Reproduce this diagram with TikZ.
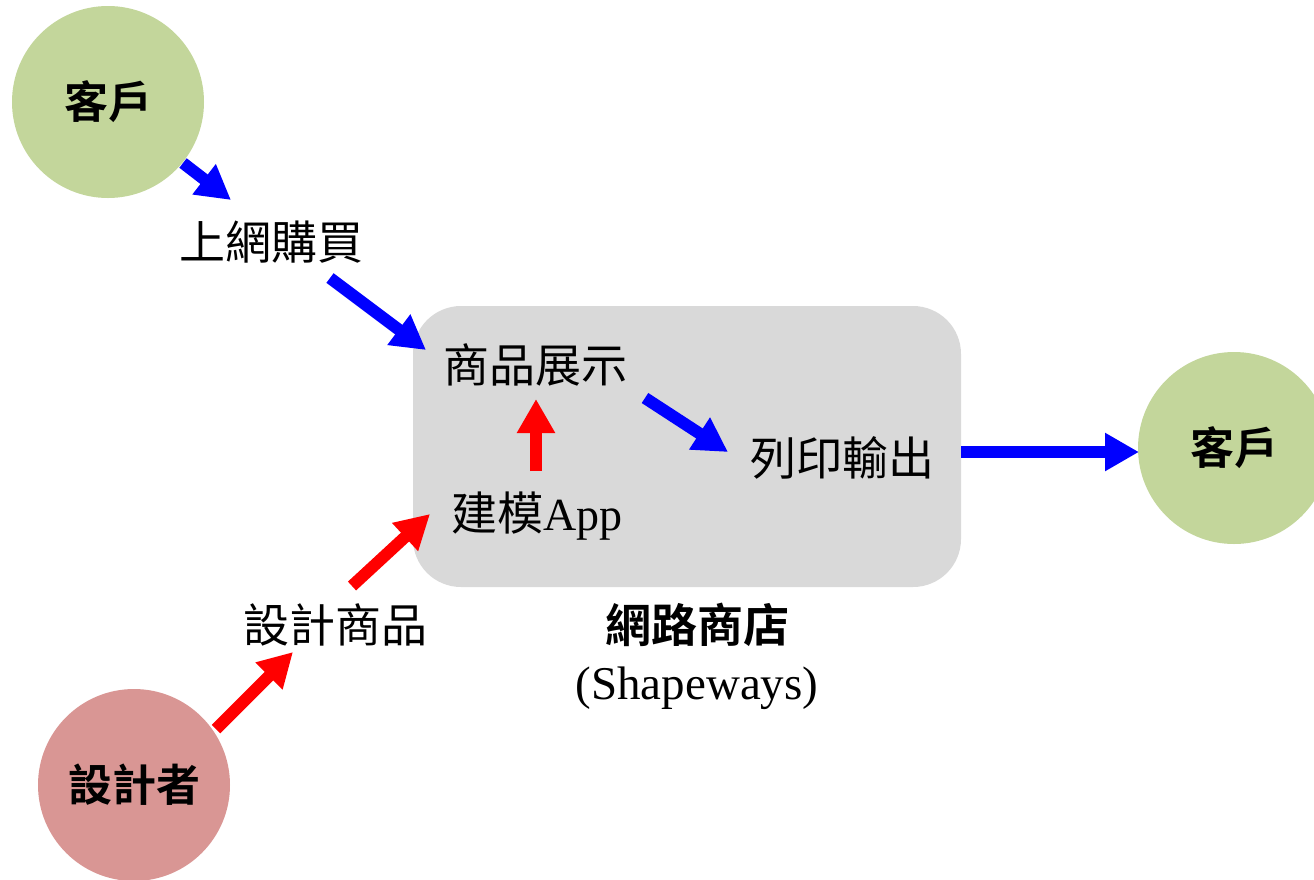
\documentclass[tikz,border=0pt]{standalone}
\usepackage{fontspec}
\setmainfont{Liberation Serif}
\newfontfamily\cjk{Noto Sans CJK TC}
\newfontfamily\cjkb{Noto Sans CJK TC Bold}
\usetikzlibrary{arrows.meta}
\definecolor{cgreen}{RGB}{195,214,155}
\definecolor{cpink}{RGB}{217,150,148}
\definecolor{cgray}{RGB}{217,217,217}
\tikzset{
  actor/.style={circle, minimum size=192pt, inner sep=0pt, font=\fontsize{44}{50}\selectfont\cjkb},
  lbl/.style={inner sep=0pt, font=\fontsize{46}{52}\selectfont},
  barrow/.style={line width=12pt, -{Triangle[length=34pt,width=36pt]}},
  bluearrow/.style={barrow, draw=blue, color=blue},
  redarrow/.style={barrow, draw=red, color=red},
}
\begin{document}
\begin{tikzpicture}[x=1pt,y=-1pt]
\useasboundingbox (0,0) rectangle (1314,879);
\clip (0,0) rectangle (1314,879);
% shop box
\node[draw=none, fill=cgray, rounded corners=48pt, minimum width=548pt, minimum height=281pt, inner sep=0pt] (shop) at (687,446.5) {};
% actors
\node[actor, fill=cgreen] (c1) at (108,102) {客戶};
\node[actor, fill=cgreen] (c2) at (1234,448) {客戶};
\node[actor, fill=cpink] (d) at (134,785) {設計者};
% labels
\node[lbl] (buy) at (271,242) {\cjk 上網購買};
\node[lbl] (show) at (535,365) {\cjk 商品展示};
\node[lbl, anchor=base] (app) at (537,530) {{\cjk 建模}App};
\node[lbl] (print) at (842,458) {\cjk 列印輸出};
\node[lbl] (design) at (335,625) {\cjk 設計商品};
\node[inner sep=0pt, align=center, font=\fontsize{47}{57}\selectfont] (shopname) at (697,656) {{\fontsize{46}{52}\selectfont\cjkb 網路商店}\\(Shapeways)};
% arrow coordinates
\coordinate (a1s) at (183,163); \coordinate (a1e) at (231,200);
\coordinate (a2s) at (330,278); \coordinate (a2e) at (426,350);
\coordinate (a3s) at (645,398); \coordinate (a3e) at (728,452);
\coordinate (a4s) at (961,452); \coordinate (a4e) at (1139,452);
\coordinate (r1s) at (216,729); \coordinate (r1e) at (293,652);
\coordinate (r2s) at (352,586); \coordinate (r2e) at (430,514);
\coordinate (r3s) at (536,471); \coordinate (r3e) at (536,399);
% arrows
\draw[bluearrow] (a1s) -- (a1e);
\draw[bluearrow] (a2s) -- (a2e);
\draw[bluearrow] (a3s) -- (a3e);
\draw[bluearrow] (a4s) -- (a4e);
\draw[redarrow] (r1s) -- (r1e);
\draw[redarrow] (r2s) -- (r2e);
\draw[redarrow] (r3s) -- (r3e);
\end{tikzpicture}
\end{document}
